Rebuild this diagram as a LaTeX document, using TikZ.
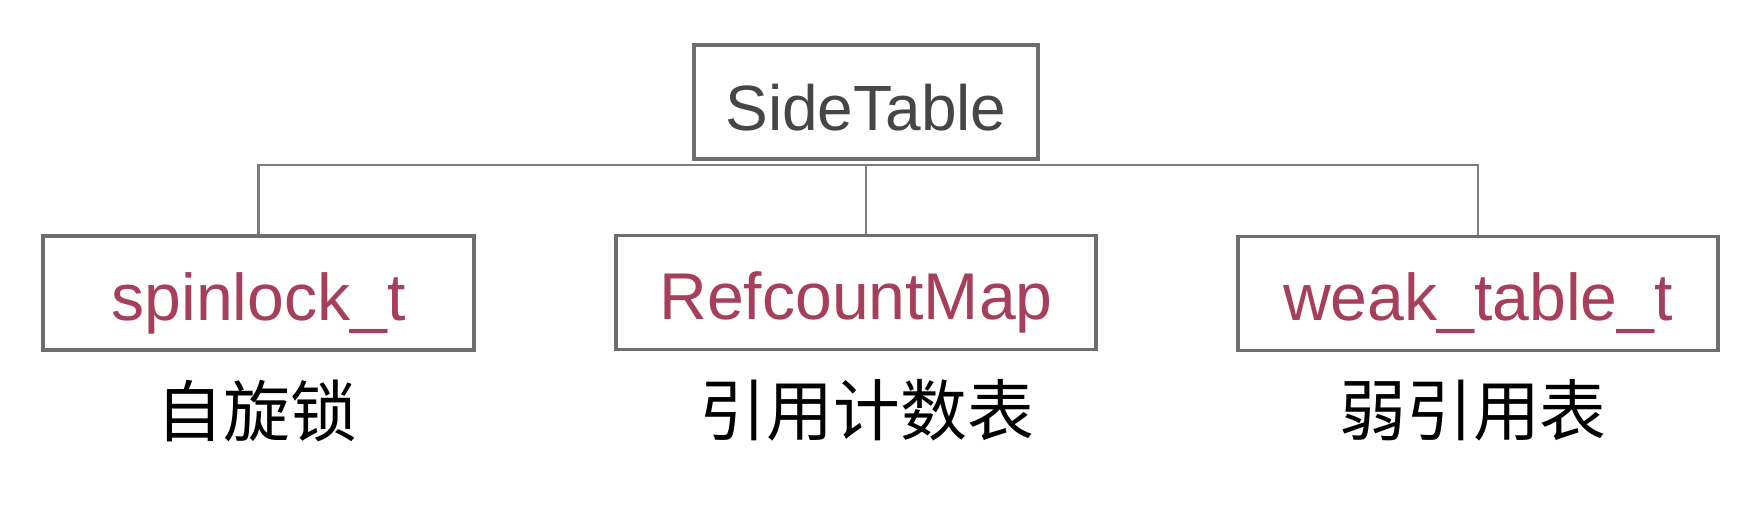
\documentclass[tikz,border=0pt]{standalone}
\usepackage{fontspec}
\setmainfont{Liberation Sans}
\newfontfamily\cjk{Noto Sans CJK SC}
\usetikzlibrary{positioning}

\definecolor{boxline}{RGB}{110,110,110}
\definecolor{wireline}{RGB}{125,125,125}
\definecolor{typered}{RGB}{166,62,92}
\definecolor{titlegray}{RGB}{70,70,70}

\tikzset{
  tbox/.style={draw=boxline,line width=1pt,inner sep=0pt,text height=0.84cm,text depth=0.30cm,
    text=typered,font=\fontsize{18.8pt}{22pt}\selectfont},
  cnlabel/.style={inner sep=0pt,font=\cjk\fontsize{19pt}{22pt}\selectfont},
  wire/.style={draw=wireline,line width=0.8pt}
}

\begin{document}
\begin{tikzpicture}[x=0.01cm,y=-0.01cm]
  \useasboundingbox (0,0) rectangle (1740,518);
  % ===================== cajas =====================
  % raiz
  \node[tbox,minimum width=3.44cm,text height=0.85cm,text depth=0.29cm,text=titlegray,
    font=\fontsize{18.2pt}{22pt}\selectfont] (side) at (866,102){SideTable};
  % hijos
  \node[tbox,minimum width=4.31cm] (spin) at (258.5,293){spinlock\_t};
  \node[tbox,minimum width=4.80cm] (refc) at (856,292.5){RefcountMap};
  \node[tbox,minimum width=4.80cm] (weak) at (1478,293.5){weak\_table\_t};
  % ===================== rotulos =====================
  \node[cnlabel] (spincn) at (257,411){自旋锁};
  \node[cnlabel] (refccn) at (867,410){引用计数表};
  \node[cnlabel] (weakcn) at (1473,410){弱引用表};
  % ===================== lineas =====================
  \coordinate (bus) at (866,165);
  \draw[wire] (spin.north) |- (bus) -| (weak.north);
  \draw[wire] (bus) -- (bus |- refc.north);
\end{tikzpicture}
\end{document}
